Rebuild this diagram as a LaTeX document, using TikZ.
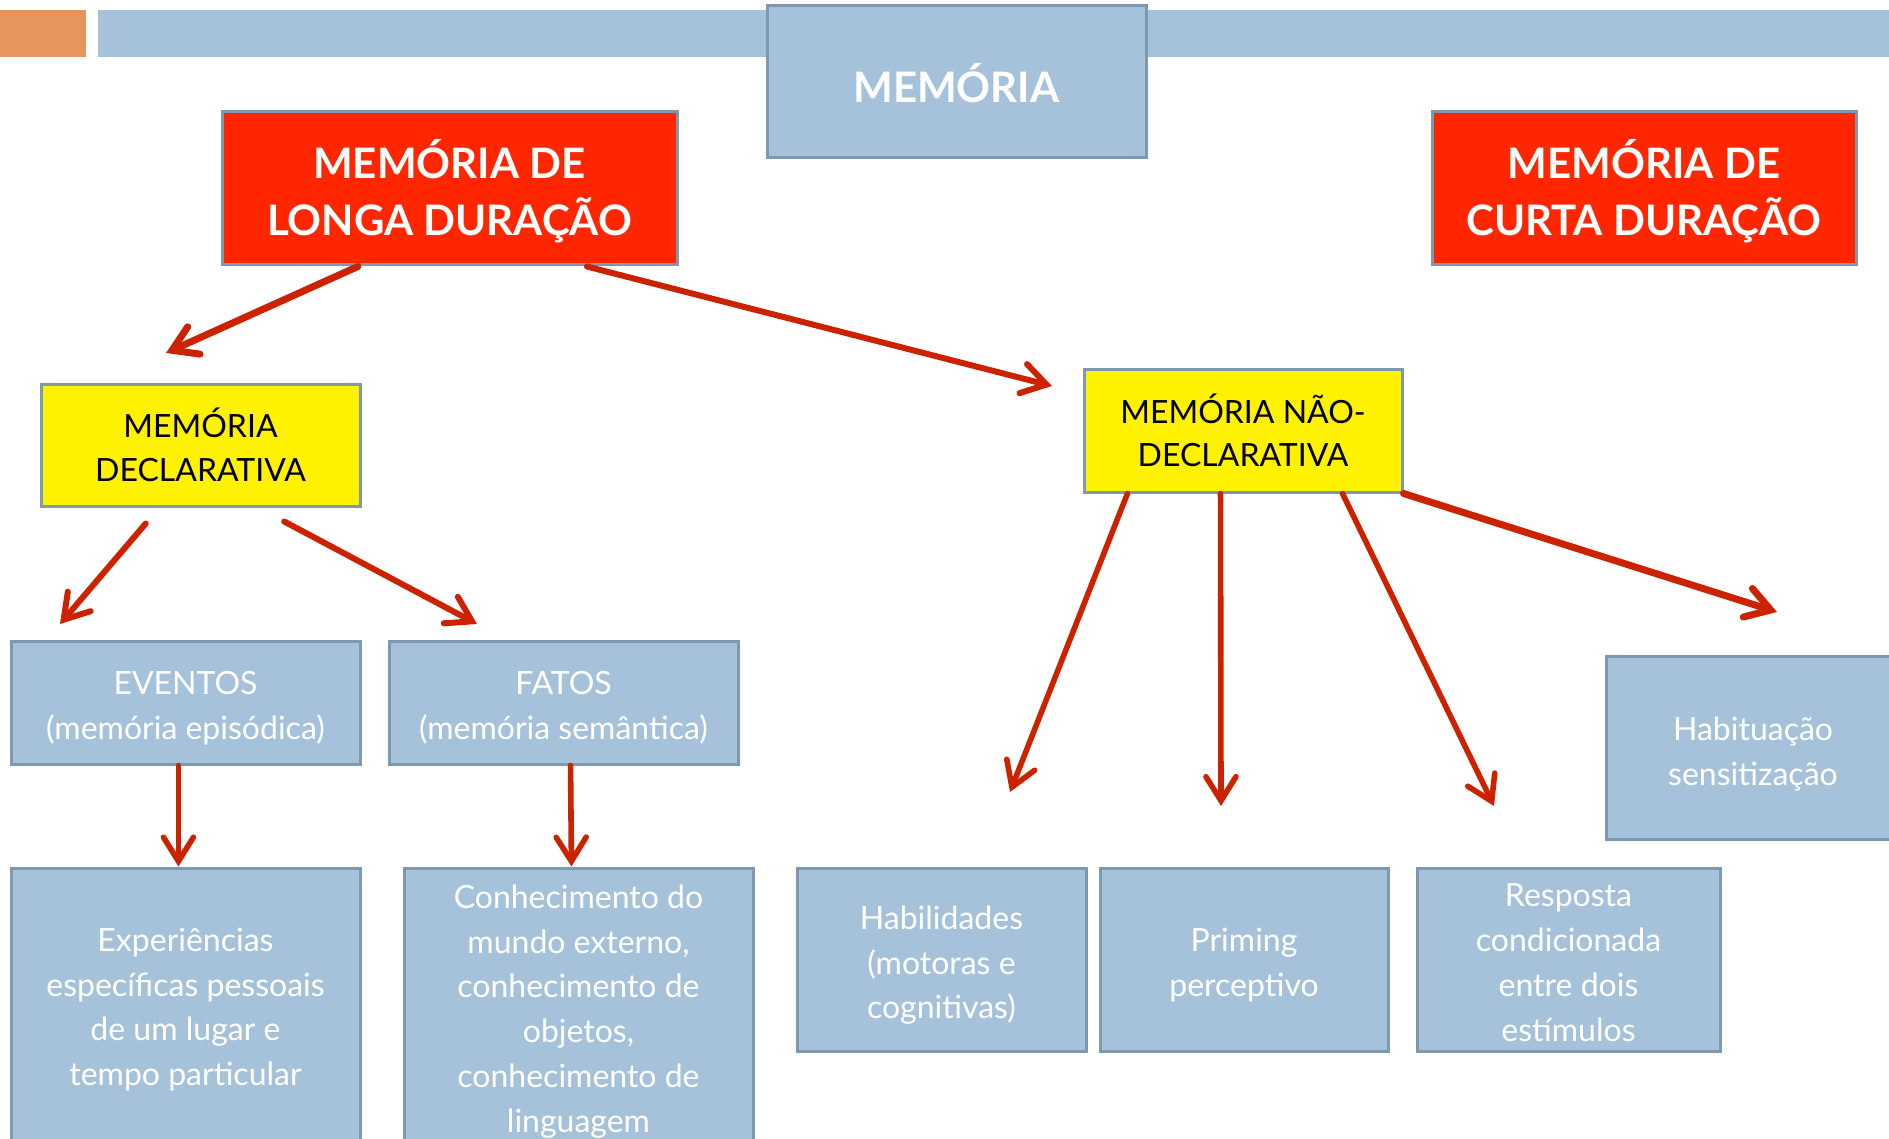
\documentclass[tikz,border=0pt]{standalone}
\usepackage{fontspec}
\setmainfont{Lato}
\usetikzlibrary{arrows.meta,calc}
\definecolor{boxblue}{HTML}{A6C2DA}
\definecolor{boxedge}{HTML}{7D98AF}
\definecolor{redfill}{HTML}{FF2600}
\definecolor{arrowred}{HTML}{CC2200}
\definecolor{orng}{HTML}{E6955C}
% #1 = amount removed from the depth of the text block (moves text down by half of it)
\newcommand\boxtxt[2][0pt]{\raisebox{0pt}[\height][\dimexpr\depth-#1\relax]{\begin{tabular}{@{}c@{}}#2\end{tabular}}}
\begin{document}
\begin{tikzpicture}[x=0.5pt,y=-0.5pt,
  box/.style={draw=boxedge, line width=1.5pt, rectangle, inner sep=0pt},
  bluebox/.style={box, fill=boxblue, text=white, font=\fontsize{16}{22.4}\selectfont},
  redbox/.style={box, fill=redfill, text=white, font=\bfseries\fontsize{21}{28.3}\selectfont},
  yelbox/.style={box, fill=yellow, text=black, font=\fontsize{16}{21.7}\selectfont},
  arrbase/.style={draw=arrowred, line cap=round, -{Straight Barb[line cap=round, line join=miter, length=12pt, width=15pt]}},
  thickarr/.style={arrbase, line width=3.5pt},
  midarr/.style={arrbase, line width=3pt},
  thinarr/.style={arrbase, line width=2.8pt},
]
\useasboundingbox (0,0) rectangle (1889,1139);
\clip (0,0) rectangle (1889,1139);
% header bar
\fill[orng] (0,10) rectangle (86,57);
\fill[boxblue] (98,10) rectangle (1889,57);
% nodes
\node[bluebox, minimum width=189.5pt, minimum height=76pt, font=\bfseries\fontsize{21}{25}\selectfont] (title) at (956.5,82) {\boxtxt[8.4pt]{MEMÓRIA}};
\node[redbox, minimum width=227.5pt, minimum height=76.5pt] (longa) at (449.5,188.5) {\boxtxt[7.2pt]{MEMÓRIA DE\\LONGA DURAÇÃO}};
\node[redbox, minimum width=212pt, minimum height=76.5pt] (curta) at (1644,188.5) {\boxtxt[7.2pt]{MEMÓRIA DE\\CURTA DURAÇÃO}};
\node[yelbox, minimum width=159.5pt, minimum height=61pt] (decl) at (200.5,445) {\boxtxt[6pt]{MEMÓRIA\\DECLARATIVA}};
\node[yelbox, minimum width=159pt, minimum height=61.5pt] (naodecl) at (1243,430.5) {\boxtxt[6pt]{MEMÓRIA NÃO-\\DECLARATIVA}};
\node[bluebox, minimum width=174.5pt, minimum height=61.5pt] (eventos) at (185.5,702.5) {\boxtxt[5.4pt]{EVENTOS\\(memória episódica)}};
\node[bluebox, minimum width=174.5pt, minimum height=61.5pt] (fatos) at (563.5,702.5) {\boxtxt[5.4pt]{FATOS\\(memória semântica)}};
\node[bluebox, minimum width=147pt, minimum height=91.5pt] (habit) at (1753,747.5) {\boxtxt[6.6pt]{Habituação\\sensitização}};
\node[bluebox, minimum width=174.5pt, minimum height=141pt] (exper) at (185.5,1009) {\boxtxt[0.6pt]{Experiências\\específicas pessoais\\de um lugar e\\tempo particular}};
\node[bluebox, minimum width=174.5pt, minimum height=141pt] (conhec) at (578.5,1009) {\boxtxt[2.4pt]{Conhecimento do\\mundo externo,\\conhecimento de\\objetos,\\conhecimento de\\linguagem}};
\node[bluebox, minimum width=144.5pt, minimum height=91.5pt] (habil) at (941.5,959.5) {\boxtxt[5.6pt]{Habilidades\\(motoras e\\cognitivas)}};
\node[bluebox, minimum width=144pt, minimum height=91.5pt] (priming) at (1244,959.5) {\boxtxt[5.8pt]{Priming\\perceptivo}};
\node[bluebox, minimum width=151.5pt, minimum height=91.5pt] (resposta) at (1568.5,959.5) {\boxtxt[5.6pt]{Resposta\\condicionada\\entre dois\\estímulos}};
% free arrow ends
\coordinate (e1) at (166,353);
\coordinate (e2) at (1052,386);
\coordinate (e3) at (60,624);
\coordinate (e4) at (477,624);
\coordinate (e7) at (1010,792);
\coordinate (e8) at (1221,806);
\coordinate (e9) at (1494,806);
\coordinate (e10) at (1777,612);
% arrows
\draw[thickarr] ($(longa.south west)!0.30!(longa.south east)$) -- (e1);
\draw[midarr] ($(longa.south west)!0.80!(longa.south east)$) -- (e2);
\draw[midarr] ($(decl.south west)!0.33!(decl.south east)+(0,16)$) -- (e3);
\draw[midarr] ($(decl.south west)!0.76!(decl.south east)+(0,14)$) -- (e4);
\draw[thinarr] ($(eventos.south west)!0.48!(eventos.south east)$) -- ($(exper.north west)!0.48!(exper.north east)$);
\draw[thinarr] ($(fatos.south west)!0.52!(fatos.south east)$) -- ($(conhec.north west)!0.48!(conhec.north east)$);
\draw[thinarr] ($(naodecl.south west)!0.14!(naodecl.south east)$) -- (e7);
\draw[thinarr] ($(naodecl.south west)!0.43!(naodecl.south east)$) -- (e8);
\draw[thinarr] ($(naodecl.south west)!0.81!(naodecl.south east)$) -- (e9);
\draw[thickarr] (naodecl.south east) -- (e10);
\end{tikzpicture}
\end{document}
